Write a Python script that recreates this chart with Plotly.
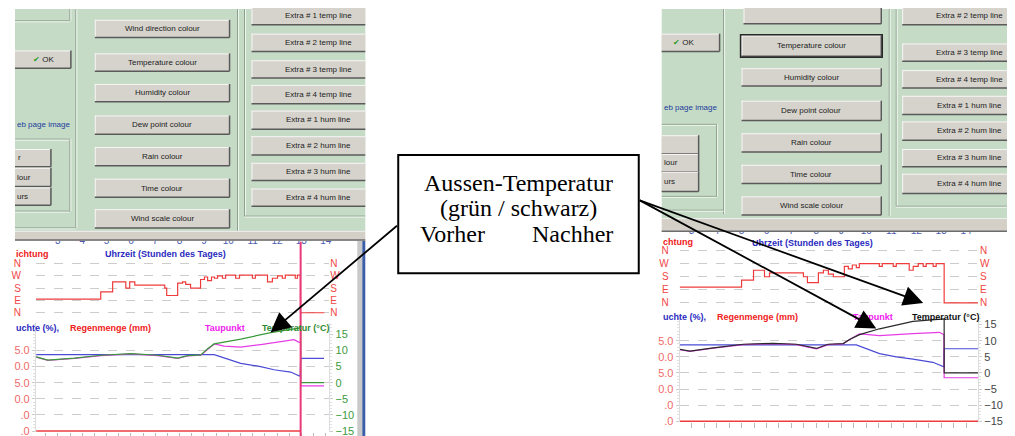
import plotly.graph_objects as go

W, H = 1015, 436

# ---------------- Daten: linker Screenshot (Vorher) ----------------
stunden_ticks = [3, 4, 5, 6, 7, 8, 9, 10, 11, 12, 13, 14]

wind_l_h = [2.10, 4.76, 5.25, 5.79, 5.95, 6.16, 7.39, 7.47, 7.92, 8.12, 8.25, 8.45,
            8.86, 9.02, 9.15, 9.31, 9.43, 9.56, 9.76, 9.89, 10.30, 10.46, 10.99, 11.11,
            11.61, 11.81, 12.02, 12.22, 12.34, 12.75, 12.84, 12.96, 13.94]
wind_l = [1.1, 1.7, 2.5, 2.0, 2.5, 2.25, 2.0, 1.4, 2.4, 2.5, 2.3, 2.0,
          2.7, 2.9, 2.6, 2.9, 2.8, 3.0, 2.8, 3.05, 2.8, 3.05, 2.8, 3.05,
          2.5, 2.8, 3.0, 2.8, 3.05, 2.8, 3.05, 0.0, 0.0]

temp_l_h = [2.11, 2.59, 3.68, 4.78, 6.00, 7.10, 7.92, 8.33, 8.87, 9.15, 9.42, 10.51,
            11.74, 12.97, 12.97, 13.93]
temp_l = [8.0, 7.0, 7.6, 8.5, 9.0, 8.5, 7.6, 8.4, 8.6, 10.5, 12.0, 13.5, 15.5, 17.0, 0.0, 0.0]

tau_l_h = [2.11, 2.59, 3.68, 4.78, 6.00, 7.10, 7.92, 8.33, 8.87, 9.15, 9.42, 9.83,
           10.51, 11.33, 12.70, 12.91, 12.97, 12.97, 13.93]
tau_l = [7.9, 6.9, 7.5, 8.4, 8.9, 8.4, 7.5, 8.3, 8.5, 10.3, 12.0, 11.3,
         11.0, 11.8, 13.3, 12.5, 12.5, -1.0, -1.0]

feuchte_l_h = [2.11, 9.42, 10.51, 11.33, 11.88, 12.56, 12.95, 12.97, 13.93]
feuchte_l = [23.7, 23.7, 21.0, 20.0, 19.0, 18.3, 17.0, 22.5, 22.5]

regen_l_h = [2.11, 12.97]
regen_l = [0.0, 0.0]
jetzt_l = 12.97

# ---------------- Daten: rechter Screenshot (Nachher) ----------------
wind_r_h = [2.52, 5.00, 5.48, 5.92, 6.12, 7.48, 7.64, 8.08, 8.28, 8.48, 8.68, 9.12,
            9.28, 9.44, 9.60, 9.72, 10.52, 10.64, 11.08, 11.20, 11.72, 11.88, 12.08,
            12.28, 12.40, 12.68, 12.80, 13.12, 14.48]
wind_r = [1.2, 1.75, 2.5, 2.0, 2.3, 2.0, 1.55, 2.3, 2.5, 2.2, 2.0, 2.8,
          2.6, 2.9, 2.7, 3.0, 2.8, 3.0, 2.8, 3.0, 2.5, 2.8, 3.0,
          2.8, 3.0, 2.8, 3.0, 0.0, 0.0]

temp_r_h = [2.53, 2.93, 3.87, 5.07, 6.27, 7.20, 8.00, 8.47, 9.07, 9.33, 9.73, 10.53,
            11.87, 13.12, 13.12, 14.48]
temp_r = [7.3, 6.8, 7.8, 8.9, 9.2, 8.9, 7.6, 8.9, 9.1, 10.4, 11.9, 13.7, 16.0, 16.8, 0.0, 0.0]

tau_r_h = [2.53, 2.93, 3.87, 5.07, 6.27, 7.20, 8.00, 8.47, 9.07, 9.33, 9.73, 10.53,
           11.87, 12.93, 13.11, 13.12, 14.48]
tau_r = [7.2, 6.7, 7.7, 8.8, 9.1, 8.8, 7.5, 8.8, 9.0, 10.4, 12.1, 11.6,
         12.2, 12.6, 11.9, -1.5, -1.5]

feuchte_r_h = [2.53, 9.60, 10.53, 11.20, 11.87, 12.67, 13.11, 13.12, 14.48]
feuchte_r = [23.7, 23.7, 21.0, 20.0, 19.3, 18.3, 16.9, 22.5, 22.5]

regen_r_h = [2.53, 14.48]
regen_r = [0.0, 0.0]

wind_ticktext = ['N', 'E', 'S', 'W', 'N']
links_tickvals = [25, 20, 15, 10, 5, 0]
links_ticktext = ['5.0', '0.0', '5.0', '0.0', '.0', '.0']   # abgeschnittene Beschriftung
temp_tickvals = [15, 10, 5, 0, -5, -10, -15]

mitte_buttons = ['Wind direction colour', 'Temperature colour', 'Humidity colour',
                 'Dew point colour', 'Rain colour', 'Time colour', 'Wind scale colour']
extra_buttons = ['Extra # 1 temp line', 'Extra # 2 temp line', 'Extra # 3 temp line',
                 'Extra # 4 temp line', 'Extra # 1 hum line', 'Extra # 2 hum line',
                 'Extra # 3 hum line', 'Extra # 4 hum line']

# ---------------- Farben ----------------
GREEN_BG = '#c6dbc6'
FACE = '#d6d3cc'
DARK = '#5a5a5a'
LIGHT = '#f6f6f6'
ETCH_D = '#8d9e8d'
ETCH_L = '#eef7ee'
BAND = '#d4d0c8'
RED = '#ee3c3c'
BLUE = '#4b4bd6'
MAGENTA = '#e63ce6'
GREEN = '#3a9a3a'
SANS = 'Liberation Sans'


def px(x):
    return x / W


def py(y):
    return 1 - y / H


shapes = []
annotations = []


def rect(x0, y0, x1, y1, fill, line=None, lw=0, layer='below'):
    shapes.append(dict(type='rect', xref='paper', yref='paper',
                       x0=px(x0), x1=px(x1), y0=py(y1), y1=py(y0),
                       fillcolor=fill, line=dict(color=line or fill, width=lw), layer=layer))


def seg(x0, y0, x1, y1, color, w=1, layer='below'):
    shapes.append(dict(type='line', xref='paper', yref='paper',
                       x0=px(x0), y0=py(y0), x1=px(x1), y1=py(y1),
                       line=dict(color=color, width=w), layer=layer))


def etch_h(x0, x1, y):
    seg(x0, y, x1, y, ETCH_D)
    seg(x0, y + 1, x1, y + 1, ETCH_L)


def etch_v(x, y0, y1):
    seg(x, y0, x, y1, ETCH_D)
    seg(x + 1, y0, x + 1, y1, ETCH_L)


def text(x, y, s, size=8, color='#222222', anchor='center', family=SANS):
    annotations.append(dict(xref='paper', yref='paper', x=px(x), y=py(y), text=s,
                            showarrow=False, xanchor=anchor, yanchor='middle',
                            font=dict(size=size, color=color, family=family)))


def button(x0, y0, x1, y1, label='', tx=None, anchor='center', left=True, right=True, focus=False):
    rect(x0, y0, x1, y1, FACE)
    seg(x0, y0 + 0.5, x1, y0 + 0.5, LIGHT)
    if left:
        seg(x0 + 0.5, y0, x0 + 0.5, y1, LIGHT)
    seg(x0, y1, x1, y1, DARK, 1.5)
    if right:
        seg(x1, y0, x1, y1, DARK, 1.5)
    if focus:
        rect(x0 - 1, y0 - 1, x1 + 1, y1 + 1, 'rgba(0,0,0,0)', '#2a2a2a', 1.5)
    if label:
        text(tx if tx is not None else (x0 + x1) / 2, (y0 + y1) / 2, label, anchor=anchor)


OK_TXT = '<span style="color:#2f9e2f">✔</span> OK'

# ---------------- linker Dialog ----------------
rect(7, 0, 358, 225, GREEN_BG)
etch_h(7, 62, 12)
etch_v(62, 0, 12)
button(7, 42, 63, 60, OK_TXT, tx=36, left=False)
text(7, 117, 'eb page image', color='#1b3c9c', anchor='left')
etch_h(7, 62, 132)
etch_h(7, 62, 205)
etch_v(62, 132, 205)
button(7, 142, 43, 160, 'r', tx=8, anchor='left', left=False)
button(7, 161, 43, 180, 'lour', tx=7, anchor='left', left=False)
button(7, 181, 43, 199, 'urs', tx=7, anchor='left', left=False)
etch_v(68, 0, 222)
etch_h(7, 68, 222)
for lab, (a, b) in zip(mitte_buttons, [(11, 29), (45, 63), (76, 94), (108, 127),
                                        (140, 159), (172, 191), (203, 222)]):
    button(87, a, 222, b, lab)
etch_v(230, 0, 225)
etch_v(237, 0, 210)
etch_h(237, 358, 210)
for lab, (a, b) in zip(extra_buttons, [(-3, 16), (25, 43), (52, 70), (77, 96),
                                        (103, 122), (129, 148), (156, 174), (182, 200)]):
    button(244, a, 358, b, lab, tx=311, right=False)

rect(7, 225, 358, 235, BAND, layer='above')
seg(7, 225.5, 358, 225.5, '#efefef', 1, layer='above')
seg(7, 234.3, 358, 234.3, '#6c6c6c', 1.5, layer='above')
rect(350, 235, 355, 436, '#c9c9c9')
rect(355, 235, 358, 436, '#3b5ea6')

# ---------------- rechter Dialog ----------------
rect(655, 0, 1015, 212, GREEN_BG)
button(737, -5, 875, 15)
button(655, 25, 713, 43, OK_TXT, tx=677, left=False)
text(655, 100, 'eb page image', color='#1b3c9c', anchor='left')
etch_h(655, 710, 117)
etch_h(655, 710, 190)
etch_v(710, 117, 190)
button(655, 128, 692, 147, '', left=False)
button(655, 147, 692, 165, 'lour', tx=655, anchor='left', left=False)
button(655, 165, 692, 185, 'urs', tx=655, anchor='left', left=False)
etch_v(717, 0, 208)
etch_h(655, 717, 204)
for lab, (a, b) in zip(mitte_buttons[1:], [(27, 48), (60, 78), (93, 113),
                                            (126, 145), (158, 177), (190, 209)]):
    button(735, a, 875, b, lab, focus=(lab == 'Temperature colour'))
etch_v(883, 0, 210)
etch_v(890, 0, 200)
etch_h(890, 1007, 200)
etch_v(1007, 0, 200)
for lab, (a, b) in zip(extra_buttons[1:], [(-3, 16), (35, 53), (62, 80), (88, 107),
                                            (114, 133), (142, 160), (167, 187)]):
    button(896, a, 1003, b, lab, tx=963)

rect(655, 212, 1015, 226, BAND, layer='above')
seg(655, 212.5, 1015, 212.5, '#efefef', 1, layer='above')
seg(655, 225.3, 1015, 225.3, '#6c6c6c', 1.5, layer='above')
rect(1003, 226, 1006, 436, '#c9c9c9')
rect(1006, 226, 1015, 436, '#3b5ea6')

# ---------------- Diagramm-Beschriftungen ----------------
def lab_b(x, y, s, color, anchor='left', size=9):
    text(x, y, '<b>' + s + '</b>', size=size, color=color, anchor=anchor)


lab_b(6, 248, 'ichtung', '#f02020')
lab_b(95, 248, 'Uhrzeit (Stunden des Tages)', '#2a2ac0')
lab_b(6, 323, 'uchte (%),', '#2a2ac0')
lab_b(60, 323, 'Regenmenge (mm)', '#f02020')
lab_b(195, 323, 'Taupunkt', '#ee20ee')
lab_b(252, 323, 'Temperatur (°C)', '#2e8b2e')

lab_b(654, 236, 'chtung', '#f02020')
lab_b(743, 237, 'Uhrzeit (Stunden des Tages)', '#2a2ac0')
lab_b(654, 312, 'uchte (%),', '#2a2ac0')
lab_b(708, 312, 'Regenmenge (mm)', '#f02020')
lab_b(845, 312, 'Taupunkt', '#ee20ee')
lab_b(904, 312, 'Temperatur (°C)', '#111111')

# ---------------- Textkasten + Pfeile ----------------
rect(391, 148, 632, 268, 'white', 'black', 2, layer='above')
SERIF = 'Liberation Serif'
text(512, 176, 'Aussen-Temperatur', size=24, color='black', family=SERIF)
text(512, 202, '(grün / schwarz)', size=24, color='black', family=SERIF)
text(445, 228, 'Vorher', size=24, color='black', family=SERIF)
text(566, 228, 'Nachher', size=24, color='black', family=SERIF)

for tip, tail in [((263, 328), (391, 220)), ((870, 324), (632, 195)), ((917, 298), (632, 195))]:
    annotations.append(dict(xref='paper', yref='paper', x=px(tip[0]), y=py(tip[1]), text='',
                            showarrow=True, ax=tail[0] - tip[0], ay=tail[1] - tip[1],
                            arrowhead=2, arrowsize=2.2, arrowwidth=1.8, arrowcolor='black',
                            standoff=0))

# ---------------- Spuren ----------------
fig = go.Figure()


def add_line(xs, ys, xa, ya, color, width=1.2, shape='linear'):
    fig.add_trace(go.Scatter(x=xs, y=ys, xaxis=xa, yaxis=ya, mode='lines',
                             line=dict(color=color, width=width, shape=shape),
                             hoverinfo='skip', showlegend=False))


add_line(wind_l_h, wind_l, 'x', 'y', RED, 1.2, 'hv')
add_line([], [], 'x', 'y2', RED)          # rechte Windachse sichtbar machen
add_line(regen_l_h, regen_l, 'x2', 'y3', RED, 1.5)
add_line(feuchte_l_h, feuchte_l, 'x2', 'y3', BLUE, 1.2)
add_line(tau_l_h, tau_l, 'x2', 'y4', MAGENTA, 1.2)
add_line(temp_l_h, temp_l, 'x2', 'y4', GREEN, 1.2)

add_line(wind_r_h, wind_r, 'x3', 'y5', RED, 1.2, 'hv')
add_line([], [], 'x3', 'y6', RED)
add_line(regen_r_h, regen_r, 'x4', 'y7', RED, 1.5)
add_line(feuchte_r_h, feuchte_r, 'x4', 'y7', BLUE, 1.2)
add_line(tau_r_h, tau_r, 'x4', 'y8', MAGENTA, 1.2)
add_line(temp_r_h, temp_r, 'x4', 'y8', '#2a2a2a', 1.2)

# aktuelle Zeit (links)
shapes.append(dict(type='line', xref='x2', yref='paper', x0=jetzt_l, x1=jetzt_l,
                   y0=0, y1=py(236), line=dict(color='#e83a78', width=2), layer='above'))


# ---------------- Achsen ----------------
def ydom(p_bottom, p_top):
    return [1 - p_bottom / H, 1 - p_top / H]


GRID = dict(showgrid=True, gridcolor='#cccccc', griddash='dash', gridwidth=1)
NOGRID = dict(showgrid=False, zeroline=False)


def top_x(dom, rng, standoff):
    return dict(domain=dom, range=rng, side='top', tickvals=stunden_ticks,
                ticktext=[str(t) for t in stunden_ticks], ticks='', showline=False,
                tickfont=dict(size=10, color='#4b5bb0', family=SANS),
                ticklabelstandoff=standoff, **NOGRID)


def bottom_x(dom, rng):
    return dict(domain=dom, range=rng, showticklabels=False, ticks='outside', ticklen=5,
                tickcolor='#b8b8b8', tick0=0, dtick=0.5, showline=False, **NOGRID)


def wind_y(dom, side, standoff, overlay=None):
    d = dict(range=[-0.4, 4.4], tickvals=[0, 1, 2, 3, 4], ticktext=wind_ticktext,
             side=side, zeroline=False, ticks='', ticklabelstandoff=standoff,
             tickfont=dict(size=10, color='#f24646', family=SANS))
    if overlay:
        d.update(overlaying=overlay, showgrid=False)
    else:
        d.update(domain=dom, **GRID)
    return d


def links_y(dom, rng):
    return dict(domain=dom, range=rng, tickvals=links_tickvals, ticktext=links_ticktext,
                side='left', zeroline=False, ticks='outside', ticklen=3, tickcolor='#cccccc',
                showline=True, linecolor='#dddddd',
                minor=dict(ticks='outside', ticklen=2, dtick=1, tickcolor='#e0e0e0'),
                tickfont=dict(size=11, color='#f06a6a', family=SANS), **GRID)


def temp_y(overlay, rng, color, standoff):
    return dict(overlaying=overlay, side='right', range=rng, tickvals=temp_tickvals,
                ticks='outside', ticklen=3, tickcolor='#cccccc', showline=True,
                linecolor='#dddddd', ticklabelstandoff=standoff,
                minor=dict(ticks='outside', ticklen=2, dtick=1, tickcolor='#e0e0e0'),
                tickfont=dict(size=11, color=color, family=SANS), **NOGRID)


xl = [px(28), px(322)]
rl = [2.10, 14.15]
xr = [px(673), px(972)]
rr = [2.52, 14.48]

fig.update_layout(
    width=W, height=H,
    margin=dict(l=0, r=0, t=0, b=0),
    paper_bgcolor='white', plot_bgcolor='rgba(0,0,0,0)',
    showlegend=False,
    xaxis=dict(anchor='y', **top_x(xl, rl, 12)),
    yaxis=dict(anchor='x', **wind_y(ydom(313, 253), 'left', 14)),
    yaxis2=dict(anchor='x', **wind_y(None, 'right', 0, overlay='y')),
    xaxis2=dict(anchor='y3', **bottom_x(xl, rl)),
    yaxis3=dict(anchor='x2', **links_y(ydom(429, 318), [-0.3, 33.6])),
    yaxis4=dict(anchor='x2', **temp_y('y3', [-15.3, 18.6], '#3c9a3c', 0)),
    xaxis3=dict(anchor='y5', **top_x(xr, rr, 8)),
    yaxis5=dict(anchor='x3', **wind_y(ydom(303.3, 239.7), 'left', 10)),
    yaxis6=dict(anchor='x3', **wind_y(None, 'right', 1, overlay='y5')),
    xaxis4=dict(anchor='y7', **bottom_x(xr, rr)),
    yaxis7=dict(anchor='x4', **links_y(ydom(419, 310.2), [-0.3, 33.0])),
    yaxis8=dict(anchor='x4', **temp_y('y7', [-15.3, 18.0], '#444444', 0)),
    shapes=shapes,
    annotations=annotations,
)

fig.write_html("out.html")
